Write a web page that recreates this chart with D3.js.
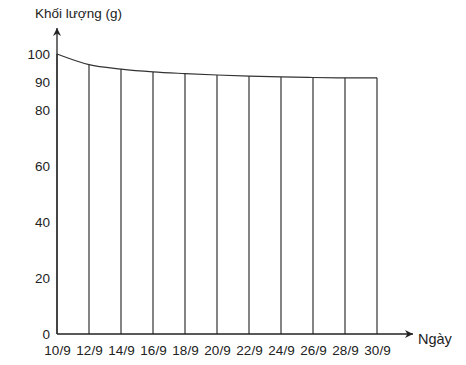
<!DOCTYPE html>
<html>
<head>
<meta charset="utf-8">
<script src="https://cdn.jsdelivr.net/npm/d3@7"></script>
<style>
  html, body { margin: 0; padding: 0; background: #fff; }
  svg { display: block; font-family: "Liberation Sans", Arial, sans-serif; }
</style>
</head>
<body>
<svg id="chart" width="466" height="365"></svg>
<script>
const dates = ["10/9", "12/9", "14/9", "16/9", "18/9", "20/9", "22/9", "24/9", "26/9", "28/9", "30/9"];
const weights = [100, 96.2, 94.6, 93.6, 93, 92.5, 92.1, 91.8, 91.6, 91.5, 91.5];
const yTicks = [0, 20, 40, 60, 80, 90, 100];
const yTitle = "Khối lượng (g)";
const xTitle = "Ngày";

const svg = d3.select("#chart");
const ink = "#222";

const x = d3.scalePoint().domain(dates).range([57, 377]);
const y = d3.scaleLinear().domain([0, 100]).range([334, 54]);

const defs = svg.append("defs");
defs.append("marker")
  .attr("id", "arrow")
  .attr("viewBox", "0 0 10 10")
  .attr("refX", 10).attr("refY", 5)
  .attr("markerWidth", 10).attr("markerHeight", 8)
  .attr("markerUnits", "userSpaceOnUse")
  .attr("orient", "auto")
  .append("path")
  .attr("d", "M0,0 L10,5 L0,10 L3,5 Z")
  .attr("fill", ink);

// vertical lines from curve to the axis
svg.append("g").selectAll("line")
  .data(dates)
  .join("line")
  .attr("x1", d => x(d)).attr("x2", d => x(d))
  .attr("y1", (d, i) => y(weights[i]))
  .attr("y2", y(0))
  .attr("stroke", "#333")
  .attr("stroke-width", 1.2);

// curve
const line = d3.line()
  .x((d, i) => x(dates[i]))
  .y(d => y(d))
  .curve(d3.curveMonotoneX);
svg.append("path")
  .datum(weights)
  .attr("d", line)
  .attr("fill", "none")
  .attr("stroke", "#333")
  .attr("stroke-width", 1.2);

// axes lines with arrows
svg.append("line")
  .attr("x1", x(dates[0])).attr("y1", y(0))
  .attr("x2", x(dates[0])).attr("y2", 28)
  .attr("stroke", ink).attr("stroke-width", 1.3)
  .attr("marker-end", "url(#arrow)");
svg.append("line")
  .attr("x1", x(dates[0])).attr("y1", y(0))
  .attr("x2", 413).attr("y2", y(0))
  .attr("stroke", ink).attr("stroke-width", 1.3)
  .attr("marker-end", "url(#arrow)");

// y axis labels
const yAxis = svg.append("g")
  .attr("transform", `translate(${x(dates[0])},0)`)
  .call(d3.axisLeft(y).tickValues(yTicks).tickSize(0).tickPadding(7));
yAxis.select(".domain").remove();
yAxis.selectAll("text")
  .attr("font-size", 13.5)
  .attr("font-family", "Liberation Sans, Arial, sans-serif")
  .attr("fill", ink);

// x axis labels
const xAxis = svg.append("g")
  .attr("transform", `translate(0,${y(0)})`)
  .call(d3.axisBottom(x).tickSize(0).tickPadding(11));
xAxis.select(".domain").remove();
xAxis.selectAll("text")
  .attr("font-size", 13.5)
  .attr("font-family", "Liberation Sans, Arial, sans-serif")
  .attr("fill", ink);

// titles
svg.append("text")
  .attr("x", 35).attr("y", 18)
  .attr("font-size", 13.5)
  .attr("fill", ink)
  .text(yTitle);
svg.append("text")
  .attr("x", 418).attr("y", 344)
  .attr("font-size", 14.5)
  .attr("fill", ink)
  .text(xTitle);
</script>
</body>
</html>
